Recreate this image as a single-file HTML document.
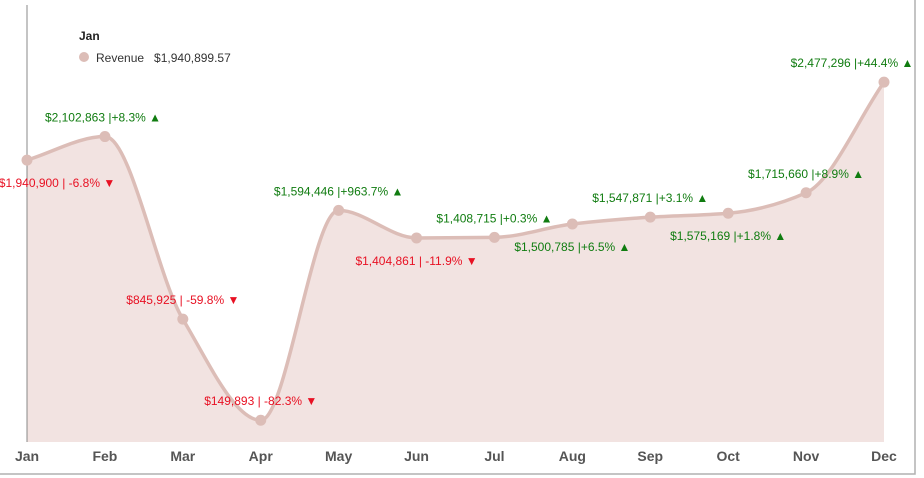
<!DOCTYPE html>
<html><head><meta charset="utf-8"><style>
body{margin:0;background:#fff;font-family:"Liberation Sans",sans-serif}
svg{display:block}
</style></head><body>
<svg id="c" width="924" height="478"></svg>
<script>
const months=["Jan","Feb","Mar","Apr","May","Jun","Jul","Aug","Sep","Oct","Nov","Dec"];
const revenue=[1940900,2102863,845925,149893,1594446,1404861,1408715,1500785,1547871,1575169,1715660,2477296];
const pct=[-6.8,8.3,-59.8,-82.3,963.7,-11.9,0.3,6.5,3.1,1.8,8.9,44.4];
const labelAbove=[false,true,true,true,true,false,true,false,true,false,true,true];
const NS="http://www.w3.org/2000/svg";
const svg=document.getElementById('c');
function mk(t,a,p){const e=document.createElementNS(NS,t);for(const k in a)e.setAttribute(k,a[k]);(p||svg).appendChild(e);return e;}
const x0=27,x1=884,base=442,yMax=3043000;
const X=i=>x0+i*(x1-x0)/(months.length-1);
const Y=v=>base-v*(base)/yMax;
const pts=revenue.map((v,i)=>[X(i),Y(v)]);
function curve(p){
 const n=p.length,s=[],m=[];
 for(let i=0;i<n-1;i++)s.push((p[i+1][1]-p[i][1])/(p[i+1][0]-p[i][0]));
 for(let i=0;i<n;i++){
  if(i===0)m.push(s[0]);else if(i===n-1)m.push(s[n-2]);
  else{const a=s[i-1],b=s[i];m.push(a*b<=0?0:2/(1/a+1/b));}
 }
 let d="M"+p[0][0]+","+p[0][1];
 for(let i=0;i<n-1;i++){const h=(p[i+1][0]-p[i][0])/3;
  d+=` C${p[i][0]+h},${p[i][1]+m[i]*h} ${p[i+1][0]-h},${p[i+1][1]-m[i+1]*h} ${p[i+1][0]},${p[i+1][1]}`;}
 return d;}
const cd=curve(pts);
const frame=mk('path',{d:"M0,474 H915 V0",fill:"none",stroke:"#b0b0b0","stroke-width":1.5});

const area=mk('path',{d:cd+` L${x1},${base} L${x0},${base} Z`,fill:"#f2e3e1"});

const ax=mk('line',{x1:27,y1:5,x2:27,y2:442,stroke:"#888","stroke-width":1});

const ln=mk('path',{d:cd,fill:"none",stroke:"#dcbdb7","stroke-width":3.5});

const fmt=v=>"$"+v.toLocaleString("en-US");
pts.forEach((p,i)=>{
 const c=mk('circle',{cx:p[0],cy:p[1],r:5.5,fill:"#dcbdb7"});
 
 const up=pct[i]>=0;
 const txt=fmt(revenue[i])+(up?" |+":" | ")+pct[i].toFixed(1)+"% "+(up?"▲":"▼");
 let cx=p[0];if(i===0)cx=57;if(i===1)cx=103;if(i===11)cx=852;
 const t=mk('text',{x:cx,y:p[1]+(labelAbove[i]?-15:27),"text-anchor":"middle","font-size":12,fill:up?"#107c10":"#e81123"});
 t.textContent=txt;
 
 const m=mk('text',{x:X(i),y:461,"text-anchor":"middle","font-size":14,"font-weight":"bold",fill:"#555"});
 m.textContent=months[i];
 
});
const g=mk('g',{});
const h=mk('text',{x:79,y:40,"font-size":12,"font-weight":"bold",fill:"#222"},g);h.textContent=months[0];

const lc=mk('circle',{cx:84,cy:57,r:5,fill:"#dcbdb7"},g);

const lt=mk('text',{x:96,y:62,"font-size":12,fill:"#333"},g);lt.textContent="Revenue   $1,940,899.57";lt.style.whiteSpace='pre';

</script>
</body></html>
